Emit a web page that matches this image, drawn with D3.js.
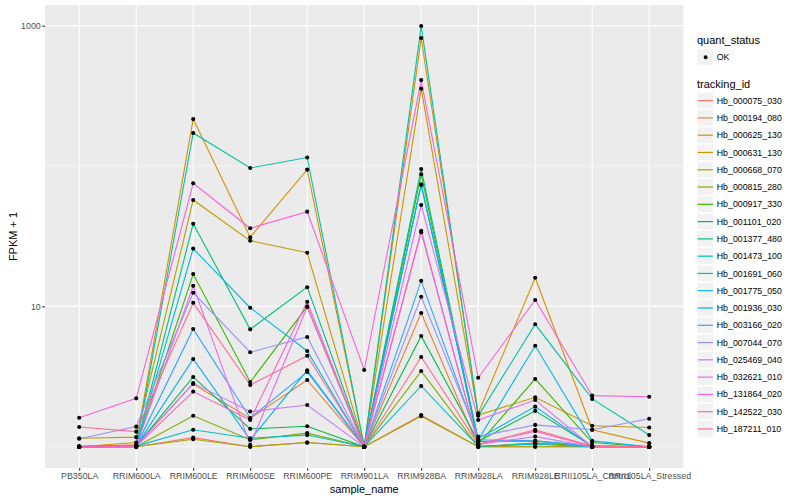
<!DOCTYPE html>
<html><head><meta charset="utf-8">
<script src="https://cdn.jsdelivr.net/npm/d3@7"></script>
<style>
body{margin:0;background:#fff}
svg{display:block}
text{font-family:"Liberation Sans",Arial,Helvetica,sans-serif}
</style>
</head><body>
<svg id="chart" width="800" height="500"></svg>
<script>
// ---------- data ----------
const sampleNames = ["PB350LA","RRIM600LA","RRIM600LE","RRIM600SE","RRIM600PE","RRIM901LA",
  "RRIM928BA","RRIM928LA","RRIM928LE","RRII105LA_Control","RRII105LA_Stressed"];

const trackingIds = ["Hb_000075_030","Hb_000194_080","Hb_000625_130","Hb_000631_130","Hb_000668_070",
  "Hb_000815_280","Hb_000917_330","Hb_001101_020","Hb_001377_480","Hb_001473_100","Hb_001691_060",
  "Hb_001775_050","Hb_001936_030","Hb_003166_020","Hb_007044_070","Hb_025469_040","Hb_032621_010",
  "Hb_131864_020","Hb_142522_030","Hb_187211_010"];

const quantStatus = ["OK"];

// FPKM + 1, one row per tracking_id, one column per sample_name
const fpkmPlusOne = [
  [1, 1, 1.16, 1, 1.07, 1, 1.68, 1, 1, 1, 1],
  [1, 1.03, 2.8, 1.59, 2.99, 1, 8.97, 1, 1.06, 1, 1],
  [1, 1.07, 216, 31.1, 94.2, 1, 817, 1.73, 16.0, 1.32, 1.06],
  [1.15, 1.17, 57.3, 29.4, 24.1, 1, 356, 1.68, 2.25, 1.41, 1.37],
  [1, 1, 1.13, 1, 1.07, 1, 1.65, 1, 1, 1, 1],
  [1, 1, 1.66, 1.12, 1.25, 1, 3.46, 1, 1.06, 1.01, 1],
  [1, 1.01, 17.0, 2.89, 9.95, 1, 87.3, 1.04, 3.04, 1.07, 1],
  [1, 1.01, 3.14, 1.34, 1.40, 1, 6.15, 1.09, 1.8, 1.01, 1],
  [1, 1, 38.8, 6.86, 13.7, 1, 95.3, 1.09, 1.1, 1.01, 1],
  [1, 1, 172, 96.8, 115, 1, 995, 1.66, 7.45, 2.19, 1.21],
  [1, 1.01, 1.32, 1.15, 1.21, 1, 2.71, 1.01, 1.04, 1, 1],
  [1, 1.01, 25.8, 9.78, 4.81, 1, 74.1, 1.12, 5.24, 1.1, 1],
  [1.01, 1.01, 4.22, 1.12, 3.5, 1, 73.3, 1.14, 1.93, 1, 1],
  [1, 1.01, 6.9, 1.6, 3.41, 1, 15.2, 1.12, 1.1, 1, 1],
  [1.14, 1.39, 12.5, 4.71, 6.05, 1, 11.7, 1.18, 1.43, 1.32, 1.58],
  [1, 1.01, 2.84, 1.78, 1.98, 1, 33.7, 1.04, 1.18, 1, 1],
  [1, 1.01, 14.0, 1.03, 9.95, 1, 52.8, 1.55, 2.15, 1, 1],
  [1.61, 2.21, 75.3, 36.0, 47.3, 3.52, 410, 3.10, 11.1, 2.31, 2.27],
  [1, 1.01, 2.47, 1.55, 10.8, 1, 34.6, 1.04, 1.29, 1, 1],
  [1.38, 1.28, 10.6, 2.75, 4.45, 1, 4.36, 1.04, 1.32, 1.01, 1]
];

const yMajorTicks = [10, 1000];
const yMinorTicks = [1, 100];

// ---------- style ----------
const palette = ["#F8766D","#EA8331","#D89000","#C09B00","#A3A500","#7CAE00","#39B600","#00BB4E",
  "#00BF7D","#00C1A3","#00BFC4","#00BAE0","#00B0F6","#35A2FF","#9590FF","#C77CFF","#E76BF3",
  "#FA62DB","#FF62BC","#FF6C91"];

const P = {left:45, top:5, right:683.4, bottom:468};
const step = (P.right - P.left) / (sampleNames.length - 1 + 1.2);

const svg = d3.select("#chart");

const x = d3.scalePoint().domain(sampleNames)
  .range([P.left + 0.6*step, P.right - 0.6*step]);
const y = d3.scaleLog().domain([1, 1000]).range([446.7, 25.7]);

// panel
svg.append("rect").attr("x",P.left).attr("y",P.top)
  .attr("width",P.right-P.left).attr("height",P.bottom-P.top).attr("fill","#EBEBEB");

const grid = svg.append("g");
grid.selectAll("line.minor").data(yMinorTicks).join("line")
  .attr("x1",P.left).attr("x2",P.right)
  .attr("y1",d=>y(d)).attr("y2",d=>y(d))
  .attr("stroke","#fff").attr("stroke-width",0.55);
grid.selectAll("line.major").data(yMajorTicks).join("line")
  .attr("x1",P.left).attr("x2",P.right)
  .attr("y1",d=>y(d)).attr("y2",d=>y(d))
  .attr("stroke","#fff").attr("stroke-width",1.07);
grid.selectAll("line.vx").data(sampleNames).join("line")
  .attr("x1",d=>x(d)).attr("x2",d=>x(d))
  .attr("y1",P.top).attr("y2",P.bottom)
  .attr("stroke","#fff").attr("stroke-width",1.07);

// lines
const line = d3.line().x((d,i)=>x(sampleNames[i])).y(d=>y(d));
svg.append("g").selectAll("path").data(fpkmPlusOne).join("path")
  .attr("d", line)
  .attr("fill","none")
  .attr("stroke",(d,i)=>palette[i])
  .attr("stroke-width",1.1);

// points
const pts = [];
fpkmPlusOne.forEach((row,si)=>row.forEach((v,ci)=>pts.push({s:sampleNames[ci], v})));
svg.append("g").selectAll("circle").data(pts).join("circle")
  .attr("cx",d=>x(d.s)).attr("cy",d=>y(d.v)).attr("r",2.05).attr("fill","#000");

// axes
const yAxis = d3.axisLeft(y).tickValues(yMajorTicks).tickFormat(d3.format("d"))
  .tickSize(2.74).tickPadding(1.6);
const gy = svg.append("g").attr("transform",`translate(${P.left},0)`).call(yAxis);
gy.select(".domain").remove();
gy.selectAll(".tick line").attr("stroke","#333").attr("stroke-width",1.07);
gy.selectAll(".tick text").attr("fill","#4D4D4D").style("font-size","8.8px")
  .style("font-family",'"Liberation Sans",Arial,sans-serif');

const xAxis = d3.axisBottom(x).tickSize(2.74).tickPadding(2.2);
const gx = svg.append("g").attr("transform",`translate(0,${P.bottom})`).call(xAxis);
gx.select(".domain").remove();
gx.selectAll(".tick line").attr("stroke","#333").attr("stroke-width",1.07);
gx.selectAll(".tick text").attr("fill","#4D4D4D").style("font-size","8.8px")
  .style("font-family",'"Liberation Sans",Arial,sans-serif');

// axis titles
svg.append("text").attr("x",(P.left+P.right)/2).attr("y",492.5)
  .attr("text-anchor","middle").style("font-size","11px").attr("fill","#000").text("sample_name");
svg.append("text").attr("transform",`translate(16.5,${(P.top+P.bottom)/2}) rotate(-90)`)
  .attr("text-anchor","middle").style("font-size","11px").attr("fill","#000").text("FPKM + 1");

// legend
const LX = 697, KS = 17.28;
const leg = svg.append("g");
leg.append("text").attr("x",LX).attr("y",44).style("font-size","11px").text("quant_status");
leg.selectAll("rect.q").data(quantStatus).join("rect")
  .attr("x",LX+0.4).attr("y",(d,i)=>48.6+i*KS+0.8).attr("width",KS-1.6).attr("height",KS-1.6)
  .attr("fill","#F2F2F2");
leg.selectAll("circle.q").data(quantStatus).join("circle")
  .attr("cx",LX+KS/2).attr("cy",(d,i)=>48.6+i*KS+KS/2).attr("r",1.9).attr("fill","#000");
leg.selectAll("text.q").data(quantStatus).join("text")
  .attr("x",LX+KS+2.5).attr("y",(d,i)=>48.6+i*KS+KS/2+3.1)
  .style("font-size","8.8px").text(d=>d);

leg.append("text").attr("x",LX).attr("y",88).style("font-size","11px").text("tracking_id");
const K0 = 92;
const keys = leg.selectAll("g.k").data(trackingIds).join("g")
  .attr("transform",(d,i)=>`translate(${LX},${K0+i*KS})`);
keys.append("rect").attr("x",0.4).attr("y",0.8).attr("width",KS-1.6).attr("height",KS-1.6).attr("fill","#F2F2F2");
keys.append("line").attr("x1",0.6).attr("x2",KS-1.4).attr("y1",KS/2).attr("y2",KS/2)
  .attr("stroke",(d,i)=>palette[i]).attr("stroke-width",1.2);
keys.append("text").attr("x",KS+2.5).attr("y",KS/2+3.1).style("font-size","8.8px").text(d=>d);
</script>
</body></html>
